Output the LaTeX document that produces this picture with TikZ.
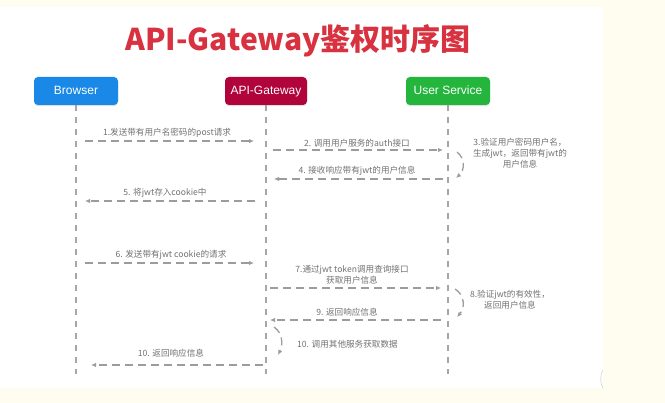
\documentclass[tikz,border=0pt]{standalone}
\usepackage{fontspec}
\setmainfont{Liberation Sans}
\newfontfamily\cjk{Noto Sans CJK SC}
\usetikzlibrary{calc}
\usetikzlibrary{arrows.meta}
\usetikzlibrary{shadows}

\definecolor{paper}{HTML}{FFFDF0}
\definecolor{titlered}{HTML}{D8313F}
\definecolor{browserblue}{HTML}{1A88E6}
\definecolor{gatewayred}{HTML}{B0043A}
\definecolor{servicegreen}{HTML}{24B53C}
\definecolor{lifegray}{HTML}{A6A6A6}
\definecolor{msggray}{HTML}{9C9C9C}
\definecolor{textgray}{HTML}{727272}

\begin{document}
\begin{tikzpicture}[x=1pt, y=-1pt,
    actor/.style={rounded corners=4pt, minimum width=84pt, minimum height=28pt,
        inner sep=0pt, text=white, font=\fontsize{12}{14}\selectfont,
        text height=8.6pt, text depth=2.2pt,
        drop shadow={opacity=0.25, shadow xshift=0pt, shadow yshift=-1.2pt}},
    life/.style={lifegray, line width=1.2pt, dash pattern=on 6pt off 6pt},
    msg/.style={msggray, line width=1.3pt, dash pattern=on 8pt off 5pt,
        -{Latex[length=5pt, width=4.5pt]}},
    lbl/.style={text=textgray, inner sep=0pt, align=center,
        font=\cjk\fontsize{8.6}{11}\selectfont}]

    % screen background and white page
    \useasboundingbox (0,0) rectangle (665,403);
    \fill [paper] (0,0) rectangle (665,403);
    \fill [white] (0,7) rectangle (603,388);
    \draw [black!15, line width=0.7pt] (603,370) .. controls (600,374) and (600,384) .. (603,388);

    \node [text=titlered, anchor=base, inner sep=0pt,
        font=\cjk\bfseries\fontsize{30}{32}\selectfont] (title) at (298,51) {API-Gateway鉴权时序图};

    % participants
    \node [actor, fill=browserblue] (browser) at (76,91) {Browser};
    \node [actor, fill=gatewayred, minimum width=82pt] (gateway) at (266,91) {API-Gateway};
    \node [actor, fill=servicegreen] (service) at (448,91) {User Service};

    \coordinate (bEnd) at (76,374);
    \coordinate (gEnd) at (266,374);
    \coordinate (sEnd) at (448,374);
    \draw [life] (browser) -- (bEnd);
    \draw [life] (gateway) -- (gEnd);
    \draw [life] (service) -- (sEnd);

    % login
    \coordinate (m1a) at (85,141);  \coordinate (m1b) at (254,141);
    \coordinate (m2a) at (273,150); \coordinate (m2b) at (443,150);
    \coordinate (m3a) at (457,152); \coordinate (m3b) at (456,178);
    \coordinate (m4a) at (443,179); \coordinate (m4b) at (274,179);
    \coordinate (m5a) at (255,201); \coordinate (m5b) at (85,201);

    \draw [msg] (m1a) -- (m1b);
    \draw [msg] (m2a) -- (m2b);
    \draw [msg] (m3a) .. controls (465,158) and (465,170) .. (m3b);
    \draw [msg] (m4a) -- (m4b);
    \draw [msg] (m5a) -- (m5b);

    \node [lbl] (t1) at (167,133) {1.发送带有用户名密码的post请求};
    \node [lbl] (t2) at (357,143) {2. 调用用户服务的auth接口};
    \node [lbl] (t3) at (520,153) {3.验证用户密码用户名，\\生成jwt，返回带有jwt的\\用户信息};
    \node [lbl] (t4) at (357,171) {4. 接收响应带有jwt的用户信息};
    \node [lbl] (t5) at (165,193) {5. 将jwt存入cookie中};

    % request with cookie
    \coordinate (m6a) at (85,263);  \coordinate (m6b) at (254,263);
    \coordinate (m7a) at (270,288); \coordinate (m7b) at (441,288);
    \coordinate (m8a) at (455,289); \coordinate (m8b) at (457,317);
    \coordinate (m9a) at (441,320); \coordinate (m9b) at (270,320);
    \coordinate (m10a) at (274,327); \coordinate (m10b) at (278,355);
    \coordinate (m11a) at (263,365); \coordinate (m11b) at (91,365);

    \draw [msg] (m6a) -- (m6b);
    \draw [msg] (m7a) -- (m7b);
    \draw [msg] (m8a) .. controls (465,295) and (465,308) .. (m8b);
    \draw [msg] (m9a) -- (m9b);
    \draw [msg] (m10a) .. controls (283,333) and (283,345) .. (m10b);
    \draw [msg] (m11a) -- (m11b);

    \node [lbl] (t6) at (171,255) {6. 发送带有jwt cookie的请求};
    \node [lbl] (t7) at (352,274.5) {7.通过jwt token调用查询接口\\获取用户信息};
    \node [lbl] (t8) at (510,300) {8.验证jwt的有效性，\\返回用户信息};
    \node [lbl] (t9) at (347,312) {9. 返回响应信息};
    \node [lbl, anchor=west] (t10) at (297,344) {10. 调用其他服务获取数据};
    \node [lbl] (t11) at (171,353) {10. 返回响应信息};
\end{tikzpicture}
\end{document}
